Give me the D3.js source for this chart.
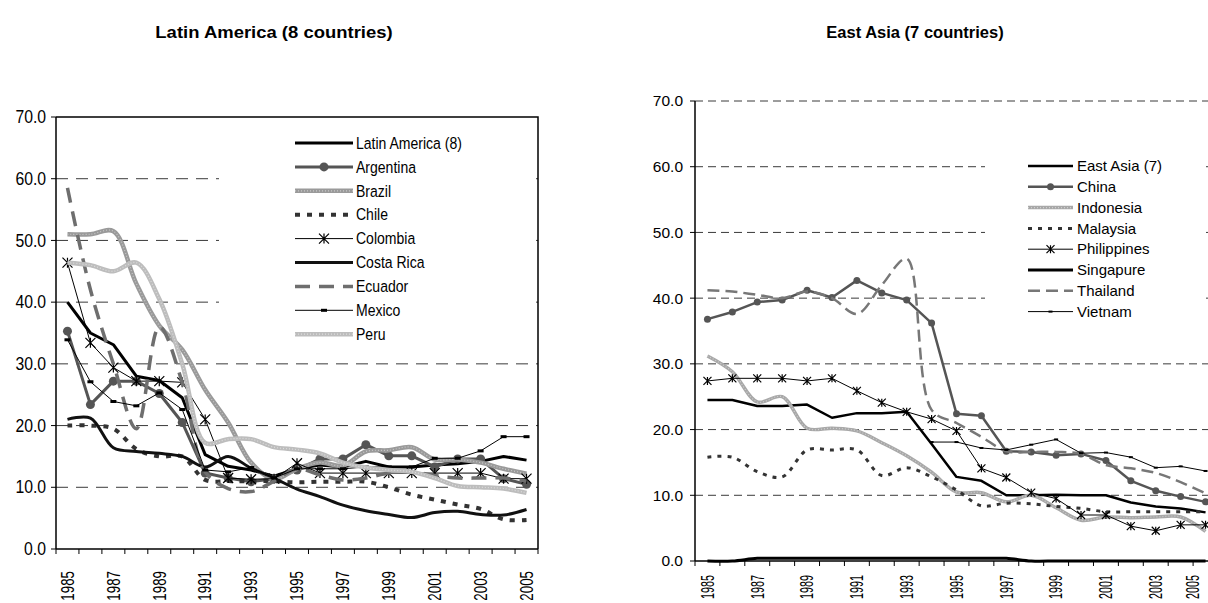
<!DOCTYPE html>
<meta charset="utf-8">
<style>
body{
  margin: 0px;
  background: #fff;
  font-family: "Liberation Sans", Arial, Helvetica, sans-serif;
}
svg{ display: block; }
.title{ font-weight: bold; font-size: 16.5px; }
</style>

<svg id="chart" width="1208" height="603"></svg>

<script src="https://cdnjs.cloudflare.com/ajax/libs/d3/7.8.5/d3.min.js"></script>
<script>

var years = ['1985','1986','1987','1988','1989','1990','1991','1992','1993','1994','1995',
             '1996','1997','1998','1999','2000','2001','2002','2003','2004','2005']
var yTicks = [0, 10, 20, 30, 40, 50, 60, 70]

// Latin America (8 countries)
var latinAmerica = [40.0, 35.0, 33.1, 28.0, 27.3, 24.5, 15.3, 13.4, 12.8, 11.8, 13.0, 13.6, 13.3, 14.2, 13.3, 13.3, 13.6, 13.8, 14.2, 15.0, 14.4]
var argentina    = [35.3, 23.4, 27.2, 27.2, 25.2, 20.5, 12.3, 11.5, 10.9, 11.4, 12.8, 14.6, 14.6, 16.9, 15.1, 15.1, 13.3, 14.6, 14.6, 11.4, 10.5]
var brazil       = [51.0, 51.0, 51.5, 43.0, 36.2, 32.3, 25.8, 20.5, 14.0, 11.3, 13.0, 14.0, 13.5, 15.8, 16.0, 16.5, 14.5, 14.5, 14.0, 13.0, 12.2]
var chile        = [20.0, 20.0, 19.5, 16.2, 15.0, 15.0, 11.2, 11.0, 11.0, 11.0, 10.8, 10.9, 10.9, 10.9, 10.0, 8.8, 8.0, 7.2, 6.5, 4.8, 4.7]
var colombia     = [46.4, 33.4, 29.4, 27.2, 27.2, 27.0, 21.0, 11.5, 11.3, 11.4, 13.9, 12.3, 12.3, 12.3, 12.3, 12.3, 12.3, 12.3, 12.3, 11.4, 11.4]
var costaRica    = [21.0, 21.2, 16.4, 15.8, 15.5, 15.0, 13.3, 15.0, 13.1, 11.5, 9.7, 8.5, 7.1, 6.2, 5.6, 5.1, 5.9, 6.1, 5.6, 5.5, 6.4]
var ecuador      = [58.5, 42.0, 30.0, 19.5, 36.0, 27.0, 12.5, 9.8, 9.3, 11.0, 13.0, 12.0, 11.2, 11.5, 12.3, 12.5, 11.9, 11.5, 11.5, 11.5, 11.0]
var mexico       = [33.9, 27.1, 23.9, 23.2, 25.3, 22.6, 12.8, 12.5, 13.2, 11.5, 13.0, 13.0, 13.0, 13.3, 13.3, 13.3, 14.7, 14.7, 15.9, 18.2, 18.2]
var peru         = [46.4, 46.0, 45.0, 46.4, 40.5, 30.0, 17.2, 17.8, 17.8, 16.5, 16.1, 15.5, 14.0, 13.2, 12.8, 12.5, 11.5, 10.2, 10.0, 9.8, 9.1]

// East Asia (7 countries)
var eastAsia     = [24.5, 24.5, 23.6, 23.6, 23.8, 21.8, 22.5, 22.5, 22.7, 17.8, 12.8, 12.2, 10.0, 10.0, 10.1, 10.0, 10.0, 8.9, 8.3, 8.0, 7.4]
var china        = [36.8, 37.9, 39.4, 39.7, 41.2, 40.1, 42.7, 40.8, 39.7, 36.2, 22.4, 22.1, 16.7, 16.6, 16.1, 16.3, 15.3, 12.2, 10.7, 9.8, 9.0]
var indonesia    = [31.2, 28.8, 24.2, 25.0, 20.2, 20.2, 19.8, 18.0, 16.0, 13.5, 10.5, 10.4, 9.0, 10.0, 8.1, 6.2, 6.7, 6.6, 6.7, 6.7, 4.5]
var malaysia     = [15.8, 15.8, 13.6, 12.8, 16.9, 16.9, 16.9, 13.0, 14.2, 12.8, 10.8, 8.4, 8.8, 8.7, 8.3, 8.0, 7.5, 7.5, 7.5, 7.5, 7.5]
var philippines  = [27.4, 27.8, 27.8, 27.8, 27.4, 27.8, 25.9, 24.1, 22.7, 21.6, 19.8, 14.1, 12.7, 10.4, 9.5, 7.0, 7.0, 5.3, 4.6, 5.5, 5.5]
var singapore    = [0.0, 0.0, 0.4, 0.4, 0.4, 0.4, 0.4, 0.4, 0.4, 0.4, 0.4, 0.4, 0.4, 0.0, 0.0, 0.0, 0.0, 0.0, 0.0, 0.0, 0.0]
var thailand     = [41.2, 41.0, 40.5, 40.0, 41.0, 40.0, 37.6, 42.0, 46.0, 23.0, 21.0, 18.9, 16.7, 16.6, 16.6, 16.3, 14.6, 14.1, 13.4, 12.0, 10.3]
var vietnam      = [null, null, null, null, null, null, null, null, null, 18.1, 18.1, 17.2, 16.9, 17.7, 18.5, 16.4, 16.5, 15.8, 14.2, 14.4, 13.7]

var laSeries = [
  {name: 'Latin America (8)', values: latinAmerica, stroke: '#000', width: 3},
  {name: 'Argentina', values: argentina, stroke: '#555', width: 3, marker: 'circle', size: 4.5},
  {name: 'Brazil', values: brazil, stroke: '#9a9a9a', width: 4.5, texture: '#c8c8c8', smooth: true},
  {name: 'Chile', values: chile, stroke: '#333', width: 4, dash: '5,7', smooth: true},
  {name: 'Colombia', values: colombia, stroke: '#000', width: 1, marker: 'star', size: 5},
  {name: 'Costa Rica', values: costaRica, stroke: '#111', width: 3, smooth: true},
  {name: 'Ecuador', values: ecuador, stroke: '#6e6e6e', width: 3.5, dash: '15,9', smooth: true},
  {name: 'Mexico', values: mexico, stroke: '#000', width: 1, marker: 'dash', size: 3},
  {name: 'Peru', values: peru, stroke: '#bdbdbd', width: 4.5, texture: '#dcdcdc', smooth: true}
]

var eaSeries = [
  {name: 'East Asia (7)', values: eastAsia, stroke: '#000', width: 2.5},
  {name: 'China', values: china, stroke: '#555', width: 2.5, marker: 'circle', size: 3.5},
  {name: 'Indonesia', values: indonesia, stroke: '#a8a8a8', width: 3.5, texture: '#cfcfcf', smooth: true},
  {name: 'Malaysia', values: malaysia, stroke: '#333', width: 3, dash: '4,6', smooth: true},
  {name: 'Philippines', values: philippines, stroke: '#000', width: 1, marker: 'star', size: 4},
  {name: 'Singapure', values: singapore, stroke: '#000', width: 3, smooth: true},
  {name: 'Thailand', values: thailand, stroke: '#777', width: 2.5, dash: '12,6', smooth: true},
  {name: 'Vietnam', values: vietnam, stroke: '#000', width: 1, marker: 'dash', size: 2}
]

var svg = d3.select('#chart')

function starPath(r){
  return 'M0,' + (-r) + 'V' + r + 'M' + (-r) + ',' + (-r) + 'L' + r + ',' + r +
         'M' + (-r) + ',' + r + 'L' + r + ',' + (-r)
}

function drawMarker(g, s, cx, cy){
  if (s.marker == 'circle'){
    g.append('circle').attr('cx', cx).attr('cy', cy).attr('r', s.size).attr('fill', s.stroke)
  } else if (s.marker == 'star'){
    g.append('path').attr('d', starPath(s.size)).attr('transform', 'translate(' + cx + ',' + cy + ')')
      .attr('fill', 'none').attr('stroke', s.stroke).attr('stroke-width', 1.2)
  } else if (s.marker == 'dash'){
    g.append('rect').attr('x', cx - s.size).attr('y', cy - s.size / 2)
      .attr('width', s.size * 2).attr('height', s.size).attr('fill', s.stroke)
  }
}

function strokeStyle(sel, s){
  sel.attr('fill', 'none')
    .attr('stroke', s.stroke)
    .attr('stroke-width', s.width)
    .attr('stroke-dasharray', s.dash || null)
    .attr('stroke-linejoin', 'round')
}

function drawPanel(o){
  var g = svg.append('g')

  var x = d3.scaleBand().domain(years).range([o.left, o.right])
  var y = d3.scaleLinear().domain([0, 70]).range([o.bottom, o.top])
  var bw = x.bandwidth()

  g.append('text').attr('class', 'title')
      .attr('transform', 'translate(' + o.titleX + ',38) scale(' + o.titleSx + ',1)')
      .attr('text-anchor', 'middle')
      .text(o.title)

  // gridlines
  g.selectAll('line.grid').data(o.grid).join('line')
      .attr('class', 'grid')
      .attr('x1', o.left).attr('x2', o.gridRight)
      .attr('y1', d => y(d)).attr('y2', d => y(d))
      .attr('stroke', '#3a3a3a').attr('stroke-width', 1)
      .attr('stroke-dasharray', o.gridDash)

  // series
  var line = d3.line()
      .defined(d => d != null)
      .x((d, i) => x(years[i]) + bw / 2)
      .y(d => y(d))

  o.series.forEach(function(s){
    line.curve(s.smooth ? d3.curveCatmullRom.alpha(0.5) : d3.curveLinear)
    g.append('path').datum(s.values).attr('d', line).call(strokeStyle, s)
    if (s.texture){
      g.append('path').datum(s.values).attr('d', line)
          .attr('fill', 'none').attr('stroke', s.texture)
          .attr('stroke-width', 1.2).attr('stroke-dasharray', '1,2')
    }
    if (s.marker){
      s.values.forEach(function(v, i){
        if (v != null) drawMarker(g, s, x(years[i]) + bw / 2, y(v))
      })
    }
  })

  // legend
  var lg = o.legend
  g.append('rect').attr('x', lg.bx).attr('y', lg.by)
      .attr('width', lg.bw).attr('height', lg.bh).attr('fill', '#fff')

  o.series.forEach(function(s, i){
    var ly = lg.y0 + i * lg.step
    g.append('line').attr('x1', lg.x1).attr('x2', lg.x2)
        .attr('y1', ly).attr('y2', ly).call(strokeStyle, s)
    if (s.texture){
      g.append('line').attr('x1', lg.x1).attr('x2', lg.x2).attr('y1', ly).attr('y2', ly)
          .attr('stroke', s.texture).attr('stroke-width', 1.2).attr('stroke-dasharray', '1,2')
    }
    if (s.marker) drawMarker(g, s, (lg.x1 + lg.x2) / 2, ly)
    g.append('text')
        .attr('transform', 'translate(' + lg.tx + ',' + ly + ') scale(' + lg.sx + ',1)')
        .attr('dy', '0.35em')
        .style('font-size', lg.font + 'px')
        .text(s.name)
  })

  // axes
  g.append('line').attr('x1', o.left).attr('x2', o.left)
      .attr('y1', o.top).attr('y2', o.bottom)
      .attr('stroke', '#000').attr('stroke-width', 1.5)
  g.append('line').attr('x1', o.left).attr('x2', o.right)
      .attr('y1', o.bottom).attr('y2', o.bottom)
      .attr('stroke', '#000').attr('stroke-width', 1.5)
  if (o.box){
    g.append('path')
        .attr('d', 'M' + o.left + ',' + o.top + 'H' + o.right + 'V' + o.bottom)
        .attr('fill', 'none').attr('stroke', '#000').attr('stroke-width', 1.5)
  }

  g.selectAll('line.ytick').data(yTicks).join('line')
      .attr('x1', o.left - 5).attr('x2', o.left)
      .attr('y1', d => y(d)).attr('y2', d => y(d))
      .attr('stroke', '#000')

  g.selectAll('text.ylab').data(yTicks).join('text')
      .attr('transform', d => 'translate(' + o.ylabX + ',' + y(d) + ') scale(' + o.ylabSx + ',1)')
      .attr('text-anchor', 'end')
      .attr('dy', '0.35em')
      .style('font-size', o.ylabFont + 'px')
      .text(d => d3.format('.1f')(d))

  var bounds = years.map(d => x(d)).concat([o.right])
  g.selectAll('line.xtick').data(bounds).join('line')
      .attr('x1', d => d).attr('x2', d => d)
      .attr('y1', o.bottom).attr('y2', o.bottom + 5)
      .attr('stroke', '#000')

  // last label kept inside the picture edge
  g.selectAll('text.xlab').data(years.filter((d, i) => i % 2 == 0)).join('text')
      .attr('transform', d => 'translate(' + Math.min(x(d) + bw / 2, 1193) + ',' + (o.bottom + o.xlabGap) + ') rotate(-90) scale(' + o.xlabSx + ',1)')
      .attr('text-anchor', 'end')
      .attr('dy', '0.35em')
      .style('font-size', o.xlabFont + 'px')
      .text(d => d)
}

drawPanel({
  title: 'Latin America (8 countries)', titleX: 274, titleSx: 1.12,
  left: 56, right: 538, top: 117, bottom: 549,
  grid: [10, 20, 30, 40, 50, 60], gridRight: 538, gridDash: '12,8', box: true,
  series: laSeries,
  legend: {bx: 219, by: 124, bw: 315, bh: 224, x1: 295, x2: 353, tx: 356, y0: 143, step: 23.9, font: 16.5, sx: 0.85},
  ylabX: 46, ylabSx: 0.9, ylabFont: 17.5,
  xlabGap: 22, xlabSx: 0.74, xlabFont: 18
})

drawPanel({
  title: 'East Asia (7 countries)', titleX: 915, titleSx: 1,
  left: 695, right: 1218, top: 101, bottom: 561,
  grid: [10, 20, 30, 40, 50, 60, 70], gridRight: 1218, gridDash: '8,5', box: false,
  series: eaSeries,
  legend: {bx: 985, by: 152, bw: 221, bh: 172, x1: 1028, x2: 1073, tx: 1077, y0: 166, step: 20.8, font: 15, sx: 1},
  ylabX: 683, ylabSx: 1, ylabFont: 15.5,
  xlabGap: 14, xlabSx: 0.6, xlabFont: 18
})

</script>
